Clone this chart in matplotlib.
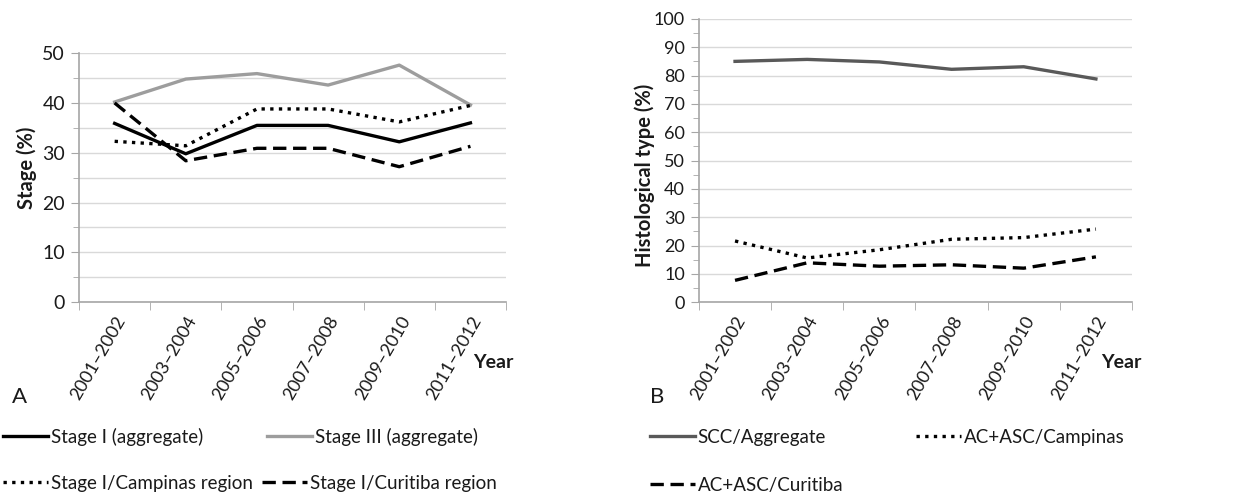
import matplotlib
matplotlib.use("Agg")
import matplotlib.pyplot as plt
import numpy as np

plt.rcParams['font.family'] = ['Lato', 'DejaVu Sans']

periods = ["2001\u20132002", "2003\u20132004", "2005\u20132006", "2007\u20132008", "2009\u20132010", "2011\u20132012"]

# Panel A: Stage (%)
stage1_aggregate = [35.9, 29.8, 35.5, 35.5, 32.2, 36.0]
stage3_aggregate = [40.2, 44.8, 45.9, 43.6, 47.6, 39.6]
stage1_campinas = [32.3, 31.4, 38.8, 38.8, 36.2, 39.5]
stage1_curitiba = [40.0, 28.4, 30.9, 30.9, 27.2, 31.3]

# Panel B: Histological type (%)
scc_aggregate = [85.0, 85.7, 84.8, 82.2, 83.1, 78.8]
acasc_campinas = [21.6, 15.6, 18.5, 22.2, 22.8, 25.8]
acasc_curitiba = [7.7, 13.9, 12.7, 13.2, 12.0, 16.0]

W, H = 1243, 497
fig = plt.figure(figsize=(W / 100, H / 100), dpi=100)
axA = fig.add_axes([0.0636, 0.392, 0.3435, 0.501])
axB = fig.add_axes([0.5623, 0.392, 0.3484, 0.570])

GRID = '#d9d9d9'
SPINE = '#a6a6a6'
TXT = '#1a1a1a'
LW = 2.4
x = np.arange(len(periods))

def style(ax, ymax, major, minor, ysize):
    ax.set_xlim(-0.5, len(periods) - 0.5)
    ax.set_ylim(0, ymax)
    for s in ['top', 'right']:
        ax.spines[s].set_visible(False)
    for s in ['left', 'bottom']:
        ax.spines[s].set_color(SPINE)
        ax.spines[s].set_linewidth(1.2)
    ax.set_yticks(np.arange(0, ymax + 0.1, major))
    ax.set_yticks(np.arange(0, ymax + 0.1, minor), minor=True)
    ax.yaxis.grid(True, which='major', color=GRID, lw=1.0)
    ax.set_axisbelow(True)
    ax.tick_params(axis='y', which='major', labelsize=ysize, length=6, color=SPINE, pad=4, labelcolor=TXT)
    ax.tick_params(axis='y', which='minor', length=4, color=SPINE)
    ax.set_xticks(x)
    ax.set_xticklabels(periods, rotation=60, ha='right', rotation_mode='anchor', fontsize=13, color=TXT)
    ax.set_xticks(np.arange(-0.5, len(periods)), minor=True)
    ax.tick_params(axis='x', which='major', length=0, pad=8)
    ax.tick_params(axis='x', which='minor', length=6, color=SPINE)

style(axA, 50, 10, 5, 14)
axA.yaxis.grid(True, which='minor', color=GRID, lw=1.0)
style(axB, 100, 10, 5, 13)

dot = (0, (1, 1.6))
dash = (0, (4, 2))
lA3, = axA.plot(x, stage3_aggregate, color='#9d9d9d', lw=LW)
lA1, = axA.plot(x, stage1_aggregate, color='black', lw=LW)
lAc, = axA.plot(x, stage1_campinas, color='black', lw=LW, ls=dot)
lAu, = axA.plot(x, stage1_curitiba, color='black', lw=LW, ls=dash)

lBs, = axB.plot(x, scc_aggregate, color='#595959', lw=LW)
lBc, = axB.plot(x, acasc_campinas, color='black', lw=LW, ls=dot)
lBu, = axB.plot(x, acasc_curitiba, color='black', lw=LW, ls=dash)

axA.set_ylabel('Stage (%)', fontsize=14.5, fontweight='bold', color=TXT)
axB.set_ylabel('Histological type (%)', fontsize=14.5, fontweight='bold', color=TXT)
axA.yaxis.set_label_coords((27 - 79) / 427, (302 - 168) / 249)
axB.yaxis.set_label_coords((645 - 699) / 433, (302 - 175) / 283)
axA.yaxis.label.set_va('center')
axB.yaxis.label.set_va('center')

fig.text(473 / W, 1 - 362 / H, 'Year', fontsize=14, fontweight='bold', ha='left', va='center', color=TXT)
fig.text(1101 / W, 1 - 363 / H, 'Year', fontsize=14, fontweight='bold', ha='left', va='center', color=TXT)
fig.text(12 / W, 1 - 397 / H, 'A', fontsize=16, ha='left', va='center', color=TXT)
fig.text(650 / W, 1 - 397 / H, 'B', fontsize=16, ha='left', va='center', color=TXT)

entries = [
    (lA1, 'Stage I (aggregate)', 3, 437),
    (lA3, 'Stage III (aggregate)', 267, 437),
    (lAc, 'Stage I/Campinas region', 3, 483),
    (lAu, 'Stage I/Curitiba region', 262, 483),
    (lBs, 'SCC/Aggregate', 650, 437),
    (lBc, 'AC+ASC/Campinas', 916, 437),
    (lBu, 'AC+ASC/Curitiba', 650, 485),
]
for h, lab, px, py in entries:
    leg = fig.legend([h], [lab], loc='center left', bbox_to_anchor=(px / W, 1 - py / H),
                     frameon=False, fontsize=13.5, handlelength=2.4, handletextpad=0.15,
                     borderpad=0, borderaxespad=0)
    for t in leg.get_texts():
        t.set_color(TXT)

fig.savefig('out.png', dpi=100)
